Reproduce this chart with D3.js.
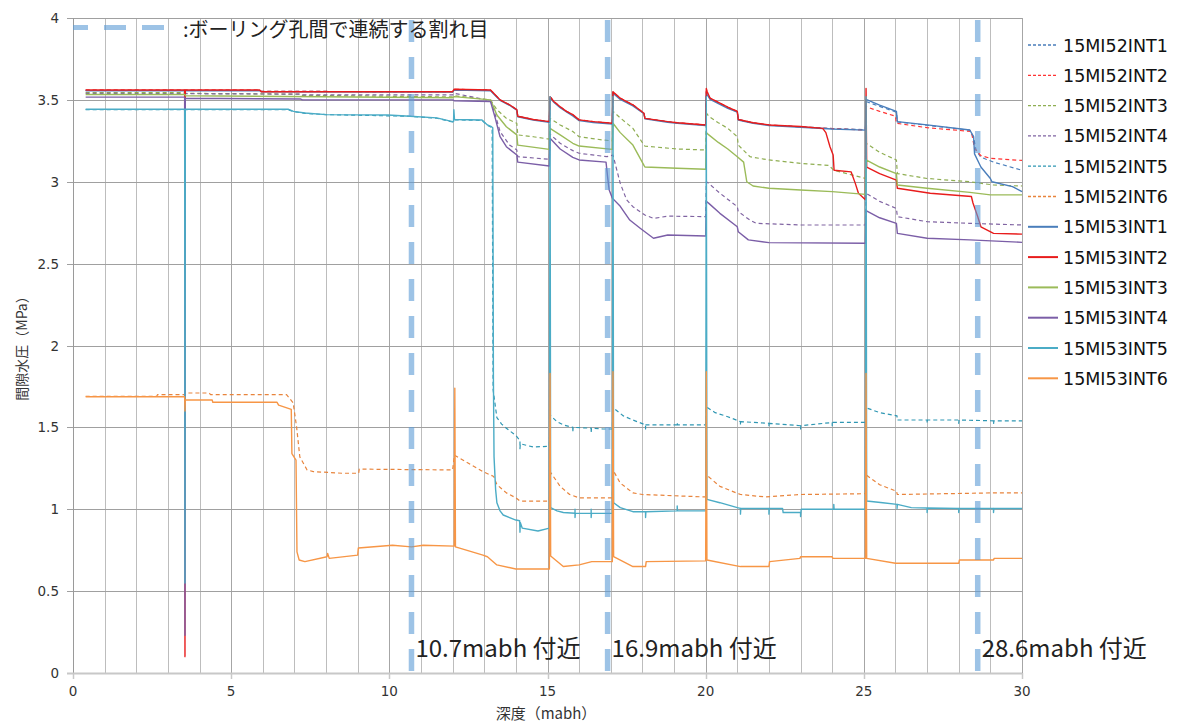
<!DOCTYPE html>
<html>
<head>
<meta charset="utf-8">
<script src="https://cdn.jsdelivr.net/npm/d3@7"></script>
<style>
  body { margin: 0; background: #fff; }
  svg { display: block; }
</style>
</head>
<body>
<svg id="chart" width="1184" height="727"></svg>
<script>
// ---- axis ticks ----
const xTicks = [0, 5, 10, 15, 20, 25, 30];
const yTicks = [0, 0.5, 1, 1.5, 2, 2.5, 3, 3.5, 4];

// ---- fractures continuous between boreholes (depth, mabh) ----
const fractureDepths = [10.7, 16.9, 28.6];

// ---- series names (legend order = drawing order) ----
const seriesNames = [
  "15MI52INT1", "15MI52INT2", "15MI52INT3", "15MI52INT4", "15MI52INT5", "15MI52INT6",
  "15MI53INT1", "15MI53INT2", "15MI53INT3", "15MI53INT4", "15MI53INT5", "15MI53INT6"
];

// ---- pore water pressure (MPa) vs depth (mabh), [depth, pressure] ----
const mi52int1 = [[0.4,3.558],[5.9,3.558],[5.95,3.552],[12.0,3.55],[12.05,3.562],[13.2,3.558],[13.3,3.54],[13.5,3.50],[13.8,3.47],[14.03,3.44],[14.06,3.40],[14.55,3.38],[15.06,3.366],[15.08,3.52],[15.2,3.488],[15.4,3.456],[15.6,3.43],[15.8,3.407],[16.0,3.377],[16.45,3.366],[17.05,3.356],[17.07,3.548],[17.3,3.508],[17.5,3.488],[17.7,3.468],[18.05,3.418],[18.08,3.387],[18.8,3.366],[19.1,3.36],[20.0,3.346],[20.02,3.55],[20.14,3.508],[20.45,3.478],[20.7,3.452],[21.0,3.428],[21.03,3.38],[21.5,3.36],[22.0,3.346],[23.0,3.336],[24.0,3.325],[25.05,3.318],[25.07,3.49],[25.5,3.46],[26.03,3.425],[26.06,3.365],[27.0,3.345],[28.35,3.315],[28.47,3.27],[28.55,3.19],[28.7,3.15],[29.1,3.12],[30,3.07]];

const mi52int2 = [[0.4,3.56],[5.9,3.56],[5.95,3.552],[12.0,3.55],[12.05,3.565],[13.2,3.56],[13.3,3.54],[13.5,3.50],[13.8,3.47],[14.03,3.44],[14.06,3.40],[14.55,3.38],[15.06,3.367],[15.08,3.52],[15.2,3.49],[15.4,3.458],[15.6,3.43],[15.8,3.408],[16.0,3.378],[16.45,3.367],[17.05,3.357],[17.07,3.55],[17.3,3.51],[17.5,3.49],[17.7,3.47],[18.05,3.418],[18.08,3.387],[18.8,3.367],[19.1,3.36],[20.0,3.347],[20.02,3.55],[20.14,3.51],[20.45,3.48],[20.7,3.455],[21.0,3.43],[21.03,3.38],[21.5,3.36],[22.0,3.347],[23.0,3.335],[24.0,3.325],[25.05,3.315],[25.07,3.458],[25.5,3.43],[26.0,3.40],[26.03,3.357],[27.0,3.33],[28.4,3.307],[28.5,3.204],[28.7,3.16],[29.0,3.143],[30,3.13]];

const mi52int3 = [[0.4,3.545],[3.54,3.545],[3.56,3.54],[7.2,3.535],[7.25,3.528],[12.0,3.518],[12.05,3.525],[13.2,3.50],[13.4,3.44],[13.7,3.387],[14.03,3.357],[14.06,3.286],[14.55,3.275],[15.06,3.26],[15.08,3.387],[15.4,3.347],[15.8,3.307],[16.0,3.275],[16.75,3.255],[17.05,3.25],[17.07,3.43],[17.3,3.39],[17.7,3.326],[18.05,3.224],[18.08,3.218],[19.1,3.20],[20.0,3.194],[20.02,3.42],[20.1,3.40],[20.4,3.36],[20.7,3.326],[21.0,3.275],[21.03,3.224],[21.4,3.153],[22.0,3.133],[23.0,3.112],[23.9,3.10],[24.05,3.07],[25.05,3.02],[25.07,3.235],[25.5,3.18],[26.03,3.133],[26.06,3.05],[27.0,3.02],[28.35,3.00],[29.1,2.98],[30,2.974]];

const mi52int4 = [[0.4,3.54],[7.2,3.535],[7.25,3.53],[12.0,3.53],[12.05,3.54],[13.2,3.495],[13.35,3.408],[13.5,3.307],[13.8,3.224],[14.03,3.194],[14.06,3.153],[15.06,3.137],[15.08,3.29],[15.4,3.235],[15.8,3.19],[16.0,3.174],[16.88,3.153],[17.07,3.163],[17.3,2.99],[17.5,2.89],[17.7,2.848],[18.08,2.797],[18.35,2.776],[18.8,2.79],[20.0,2.787],[20.02,3.00],[20.1,2.99],[20.45,2.93],[21.0,2.848],[21.03,2.818],[21.4,2.766],[21.6,2.746],[23.0,2.736],[25.05,2.736],[25.07,2.93],[25.5,2.88],[26.03,2.837],[26.06,2.787],[27.0,2.756],[28.35,2.746],[30,2.736]];

const mi52int5 = [[0.4,3.44],[6.8,3.44],[6.97,3.428],[7.33,3.418],[8.0,3.41],[10.65,3.40],[11.5,3.388],[12.0,3.365],[12.06,3.378],[12.93,3.375],[13.1,3.345],[13.25,3.33],[13.28,1.73],[13.4,1.56],[13.55,1.52],[13.7,1.495],[14.0,1.45],[14.13,1.42],[14.13,1.37],[14.14,1.40],[14.55,1.38],[15.06,1.385],[15.08,1.575],[15.3,1.535],[15.5,1.515],[15.8,1.50],[15.8,1.47],[15.81,1.50],[16.38,1.495],[16.38,1.465],[16.39,1.495],[16.75,1.49],[17.05,1.49],[17.07,1.62],[17.4,1.57],[17.7,1.545],[18.1,1.515],[18.1,1.49],[18.11,1.515],[19.1,1.515],[19.1,1.53],[19.11,1.515],[20.0,1.515],[20.02,1.625],[20.3,1.59],[20.7,1.565],[21.1,1.535],[21.1,1.515],[21.11,1.535],[22.0,1.525],[22.0,1.505],[22.01,1.525],[23.0,1.51],[23.0,1.49],[23.01,1.51],[24.0,1.53],[24.0,1.51],[24.01,1.53],[25.05,1.53],[25.07,1.62],[25.5,1.59],[26.05,1.57],[26.05,1.545],[26.07,1.545],[27.0,1.545],[27.0,1.525],[27.01,1.545],[28.0,1.545],[28.0,1.525],[28.01,1.545],[29.1,1.54],[29.1,1.52],[29.11,1.54],[30,1.54]];

const mi52int6 = [[0.4,1.69],[2.65,1.69],[2.67,1.70],[3.54,1.70],[3.56,1.71],[4.3,1.71],[4.35,1.70],[6.75,1.70],[6.96,1.65],[7.07,1.50],[7.17,1.32],[7.4,1.24],[7.6,1.23],[8.5,1.22],[9.03,1.22],[9.05,1.245],[12.0,1.24],[12.06,1.33],[12.96,1.23],[13.3,1.20],[13.4,1.15],[13.7,1.10],[14.0,1.07],[14.13,1.05],[15.06,1.05],[15.08,1.23],[15.4,1.14],[15.7,1.09],[16.0,1.07],[17.05,1.07],[17.07,1.24],[17.3,1.16],[17.7,1.10],[18.0,1.09],[20.0,1.075],[20.02,1.21],[20.45,1.14],[21.1,1.09],[21.9,1.075],[23.0,1.09],[25.05,1.095],[25.07,1.21],[25.5,1.15],[26.03,1.11],[26.06,1.09],[29.1,1.10],[30,1.10]];

const mi53int1 = [[0.4,3.556],[5.9,3.556],[5.95,3.55],[12.0,3.548],[12.05,3.56],[13.2,3.556],[13.3,3.536],[13.5,3.497],[13.8,3.467],[14.03,3.437],[14.06,3.397],[14.55,3.377],[15.06,3.363],[15.08,3.515],[15.2,3.485],[15.4,3.452],[15.6,3.427],[15.8,3.402],[16.0,3.373],[16.45,3.362],[17.05,3.352],[17.07,3.54],[17.3,3.503],[17.5,3.483],[17.7,3.463],[18.05,3.415],[18.08,3.384],[18.8,3.363],[19.1,3.357],[20.0,3.343],[20.02,3.54],[20.14,3.503],[20.45,3.473],[20.7,3.448],[21.0,3.425],[21.03,3.377],[21.5,3.357],[22.0,3.343],[23.0,3.333],[24.0,3.322],[25.05,3.315],[25.07,3.503],[25.5,3.468],[26.03,3.43],[26.06,3.367],[27.0,3.347],[28.35,3.316],[28.47,3.275],[28.5,3.17],[28.7,3.09],[29.0,3.02],[29.05,3.0],[29.7,2.97],[30,2.94]];

const mi53int2 = [[0.4,3.56],[3.53,3.56],[3.54,0.10],[3.55,3.56],[5.9,3.56],[5.95,3.55],[12.0,3.55],[12.05,3.565],[13.2,3.56],[13.3,3.54],[13.5,3.50],[13.8,3.47],[14.03,3.44],[14.06,3.40],[14.55,3.38],[15.06,3.367],[15.08,3.52],[15.2,3.49],[15.4,3.458],[15.6,3.43],[15.8,3.41],[16.0,3.378],[16.45,3.367],[17.05,3.357],[17.07,3.55],[17.3,3.51],[17.5,3.49],[17.7,3.47],[18.05,3.418],[18.08,3.387],[18.8,3.367],[19.1,3.36],[20.0,3.347],[20.02,3.57],[20.05,3.55],[20.14,3.51],[20.45,3.48],[20.7,3.455],[21.0,3.43],[21.03,3.38],[21.5,3.36],[22.0,3.347],[23.0,3.337],[23.7,3.326],[23.8,3.30],[23.93,3.214],[24.03,3.163],[24.06,3.07],[24.6,3.06],[24.73,2.99],[24.83,2.93],[25.05,2.89],[25.07,3.57],[25.09,3.09],[25.5,3.05],[26.03,3.01],[26.06,2.96],[27.1,2.93],[28.4,2.91],[28.45,2.87],[28.6,2.787],[28.7,2.725],[29.1,2.685],[30,2.68]];

const mi53int3 = [[0.4,3.533],[3.54,3.533],[3.56,3.525],[12.0,3.513],[12.05,3.52],[13.2,3.50],[13.4,3.408],[13.7,3.336],[14.03,3.286],[14.06,3.224],[15.06,3.198],[15.08,3.326],[15.4,3.286],[15.8,3.235],[16.0,3.218],[17.05,3.198],[17.07,3.357],[17.3,3.30],[17.7,3.224],[18.05,3.10],[18.08,3.09],[19.1,3.082],[20.0,3.076],[20.02,3.30],[20.1,3.286],[20.4,3.24],[20.7,3.20],[21.0,3.153],[21.2,3.12],[21.3,3.00],[21.5,2.974],[22.0,2.96],[23.0,2.95],[24.0,2.94],[25.05,2.923],[25.07,3.133],[25.5,3.09],[26.03,3.05],[26.06,2.98],[27.0,2.96],[28.35,2.935],[29.0,2.92],[30,2.92]];

const mi53int4 = [[0.4,3.517],[3.53,3.517],[3.54,0.23],[3.55,3.51],[7.2,3.505],[7.25,3.50],[12.0,3.50],[12.05,3.495],[13.2,3.49],[13.35,3.387],[13.5,3.275],[13.7,3.214],[14.03,3.163],[14.06,3.12],[15.06,3.096],[15.08,3.265],[15.4,3.20],[15.8,3.149],[16.0,3.133],[16.85,3.12],[16.9,3.03],[16.95,2.95],[17.05,2.90],[17.3,2.85],[17.6,2.766],[17.93,2.716],[18.35,2.655],[18.8,2.675],[20.0,2.669],[20.02,2.88],[20.1,2.868],[20.45,2.807],[21.0,2.725],[21.03,2.695],[21.35,2.645],[22.0,2.628],[25.05,2.624],[25.07,2.824],[25.5,2.78],[26.03,2.746],[26.06,2.685],[27.0,2.655],[28.35,2.645],[30,2.63]];

const mi53int5 = [[0.4,3.443],[3.53,3.443],[3.54,0.55],[3.55,3.443],[6.8,3.443],[6.97,3.43],[7.33,3.42],[8.0,3.41],[9.95,3.408],[10.65,3.40],[11.5,3.39],[12.0,3.367],[12.03,3.367],[12.04,3.44],[12.06,3.38],[12.93,3.377],[13.1,3.347],[13.23,3.336],[13.27,3.33],[13.29,1.80],[13.31,1.32],[13.36,1.12],[13.4,1.04],[13.5,0.99],[13.6,0.965],[14.0,0.934],[14.12,0.93],[14.13,0.86],[14.14,0.92],[14.2,0.885],[14.7,0.867],[15.06,0.885],[15.08,3.52],[15.1,1.01],[15.3,0.99],[15.5,0.98],[15.87,0.976],[15.87,1.00],[15.87,0.95],[15.88,0.976],[16.38,0.975],[16.38,1.0],[16.38,0.95],[16.39,0.975],[17.05,0.975],[17.07,3.52],[17.09,1.04],[17.3,1.01],[17.7,0.985],[18.1,0.985],[18.1,0.95],[18.11,0.985],[19.1,0.99],[19.1,1.02],[19.11,0.99],[20.0,0.99],[20.02,3.52],[20.04,1.06],[20.45,1.04],[21.0,1.01],[21.1,1.005],[21.1,0.97],[21.11,1.005],[22.0,1.005],[22.0,0.97],[22.01,1.005],[22.43,1.005],[22.45,0.98],[23.0,0.98],[23.0,0.955],[23.02,1.0],[24.05,1.0],[24.05,1.03],[24.06,1.0],[25.05,1.0],[25.07,3.52],[25.09,1.05],[25.6,1.04],[26.05,1.03],[26.05,1.005],[26.06,1.03],[26.5,1.01],[27.0,1.008],[27.0,0.98],[27.01,1.008],[28.0,1.005],[28.0,0.98],[28.01,1.005],[29.1,1.005],[29.1,0.98],[29.11,1.005],[30,1.005]];

const mi53int6 = [[0.4,1.687],[3.53,1.687],[3.54,1.60],[3.55,1.667],[4.4,1.667],[4.42,1.653],[6.45,1.653],[6.5,1.636],[6.9,1.61],[6.92,1.34],[7.05,1.30],[7.08,0.74],[7.15,0.69],[7.33,0.68],[8.03,0.71],[8.05,0.73],[8.1,0.70],[9.0,0.72],[9.02,0.763],[10.1,0.78],[10.7,0.77],[11.07,0.78],[12.05,0.775],[12.07,1.74],[12.09,0.77],[12.96,0.72],[13.1,0.71],[13.4,0.66],[14.0,0.635],[15.06,0.635],[15.08,1.83],[15.1,0.714],[15.5,0.65],[16.0,0.66],[16.4,0.68],[17.05,0.68],[17.07,1.84],[17.09,0.71],[17.7,0.65],[18.1,0.65],[18.12,0.68],[20.0,0.685],[20.02,1.84],[20.04,0.69],[21.1,0.65],[22.0,0.65],[22.02,0.68],[22.98,0.70],[23.0,0.71],[24.0,0.71],[24.02,0.70],[25.05,0.70],[25.07,1.83],[25.09,0.70],[26.0,0.67],[28.0,0.67],[28.02,0.69],[29.1,0.69],[29.12,0.70],[30,0.70]];

const seriesValues = [mi52int1, mi52int2, mi52int3, mi52int4, mi52int5, mi52int6,
                      mi53int1, mi53int2, mi53int3, mi53int4, mi53int5, mi53int6];
const seriesColors = ["#4a7ebb", "#ff3333", "#8fae52", "#8064a2", "#2f97b3", "#e8843c",
                      "#4a7ebb", "#e81c1c", "#9bbb59", "#7b5ea7", "#4bacc6", "#f79646"];
const seriesDashed = [true, true, true, true, true, true, false, false, false, false, false, false];

// ---- layout ----
const svg = d3.select("#chart");
const x = d3.scaleLinear().domain([0, 30]).range([73, 1022]);
const y = d3.scaleLinear().domain([0, 4]).range([673, 18]);
const crisp = v => Math.round(v) + 0.5;
const jpFont = "'Noto Sans CJK JP', 'Noto Sans', sans-serif";
const numFont = "'DejaVu Sans', 'Noto Sans', sans-serif";

// vertical gridlines every 1 mabh
svg.append("g").selectAll("line").data(d3.range(1, 31)).join("line")
  .attr("x1", d => crisp(x(d))).attr("x2", d => crisp(x(d)))
  .attr("y1", y(4)).attr("y2", y(0))
  .attr("stroke", d => d % 5 === 0 ? "#a6a6a6" : "#bdbdbd").attr("stroke-width", 1);

// horizontal gridlines every 0.5 MPa
svg.append("g").selectAll("line").data(yTicks.filter(d => d > 0)).join("line")
  .attr("x1", x(0) - 6).attr("x2", x(30))
  .attr("y1", d => crisp(y(d))).attr("y2", d => crisp(y(d)))
  .attr("stroke", "#a0a0a0").attr("stroke-width", 1.2);

// value axis (left)
svg.append("line")
  .attr("x1", crisp(x(0))).attr("x2", crisp(x(0)))
  .attr("y1", y(4)).attr("y2", y(0))
  .attr("stroke", "#9a9a9a");

// category axis (bottom)
svg.append("line")
  .attr("x1", x(0) - 6).attr("x2", x(30))
  .attr("y1", crisp(y(0))).attr("y2", crisp(y(0)))
  .attr("stroke", "#c8c8c8").attr("stroke-width", 2);
svg.append("g").selectAll("line").data(xTicks).join("line")
  .attr("x1", d => crisp(x(d))).attr("x2", d => crisp(x(d)))
  .attr("y1", y(0)).attr("y2", y(0) + 6)
  .attr("stroke", "#c8c8c8").attr("stroke-width", 1.5);

// tick labels
svg.append("g").selectAll("text").data(yTicks).join("text")
  .attr("x", 59).attr("y", d => y(d) + 5)
  .attr("text-anchor", "end")
  .attr("font-family", numFont).attr("font-size", 13.5).attr("fill", "#333")
  .text(d => d3.format("")(d));
svg.append("g").selectAll("text").data(xTicks).join("text")
  .attr("x", d => x(d)).attr("y", 696)
  .attr("text-anchor", "middle")
  .attr("font-family", numFont).attr("font-size", 13.5).attr("fill", "#333")
  .text(d => d);

// axis titles
svg.append("text")
  .attr("transform", "translate(27,345) rotate(-90)")
  .attr("text-anchor", "middle")
  .attr("font-family", jpFont).attr("font-size", 14).attr("fill", "#333")
  .text("間隙水圧（MPa）");
svg.append("text")
  .attr("x", 546).attr("y", 719)
  .attr("text-anchor", "middle")
  .attr("font-family", jpFont).attr("font-size", 15).attr("fill", "#333")
  .text("深度（mabh）");

// data lines
const line = d3.line().x(d => x(d[0])).y(d => y(d[1]));
svg.append("g").selectAll("path").data(seriesValues).join("path")
  .attr("d", line)
  .attr("fill", "none")
  .attr("stroke", (d, i) => seriesColors[i])
  .attr("stroke-width", (d, i) => seriesDashed[i] ? 1.2 : 1.4)
  .attr("stroke-dasharray", (d, i) => seriesDashed[i] ? "4,3" : null)
  .attr("stroke-linejoin", "round");

// fracture marker lines
const fractureColor = "#5b9bd5";
svg.append("g").selectAll("line").data(fractureDepths).join("line")
  .attr("x1", d => x(d)).attr("x2", d => x(d))
  .attr("y1", y(4) + 2).attr("y2", y(0) + 4)
  .attr("stroke", fractureColor).attr("stroke-opacity", 0.6)
  .attr("stroke-width", 5.5).attr("stroke-dasharray", "22,15");
svg.append("g").selectAll("text").data(fractureDepths).join("text")
  .attr("x", d => x(d) + 4).attr("y", 657)
  .attr("font-family", jpFont).attr("font-size", 24).attr("fill", "#222")
  .text(d => `${d}mabh 付近`);

// key for the fracture marker
svg.append("line")
  .attr("x1", 73).attr("x2", 164).attr("y1", 27.5).attr("y2", 27.5)
  .attr("stroke", fractureColor).attr("stroke-opacity", 0.6)
  .attr("stroke-width", 5).attr("stroke-dasharray", "22,16").attr("stroke-dashoffset", 7);
svg.append("text")
  .attr("x", 183).attr("y", 37)
  .attr("font-family", jpFont).attr("font-size", 20).attr("fill", "#222")
  .text(":ボーリング孔間で連続する割れ目");

// series legend
const legend = svg.append("g").selectAll("g").data(seriesNames).join("g")
  .attr("transform", (d, i) => `translate(1028,${45 + i * 30.3})`);
legend.append("line")
  .attr("x1", 0).attr("x2", 30).attr("y1", 0).attr("y2", 0)
  .attr("stroke", (d, i) => seriesColors[i])
  .attr("stroke-width", (d, i) => seriesDashed[i] ? 1.3 : 2)
  .attr("stroke-dasharray", (d, i) => seriesDashed[i] ? "3,2" : null);
legend.append("text")
  .attr("x", 35).attr("y", 6.5)
  .attr("font-family", numFont).attr("font-size", 17.5).attr("fill", "#111")
  .text(d => d);
</script>
</body>
</html>
